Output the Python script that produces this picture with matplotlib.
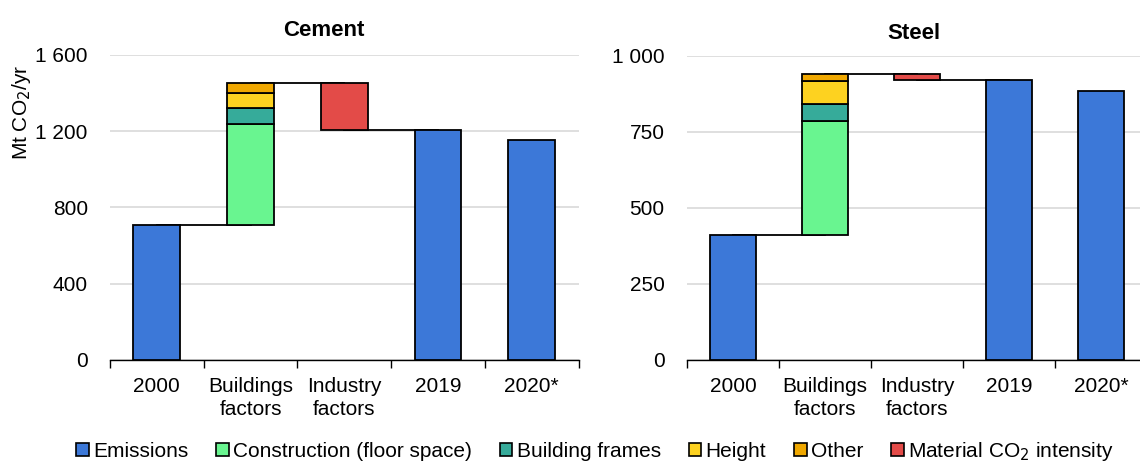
import numpy as np
import matplotlib.pyplot as plt
from matplotlib.patches import Patch

plt.rcParams['font.family'] = ['Liberation Sans', 'DejaVu Sans']

categories = ["2000", "Buildings\nfactors", "Industry\nfactors", "2019", "2020*"]

# Cement (Mt CO2/yr)
cement_2000 = 710
cement_buildings = [525, 87, 80, 50]   # construction, frames, height, other
cement_material = -247
cement_2019 = 1205
cement_2020 = 1155

# Steel (Mt CO2/yr)
steel_2000 = 410
steel_buildings = [374, 56, 76, 25]
steel_material = -20
steel_2019 = 920
steel_2020 = 885

labels = ["Emissions", "Construction (floor space)", "Building frames",
          "Height", "Other", "Material CO$_2$ intensity"]
colors = ["#3c78d8", "#69f590", "#36ab9a", "#fdd220", "#f0a800", "#e34b48"]

FS = 15


def waterfall(ax, start, buildings, material, y2019, y2020, ymax, step):
    w = 0.5
    kw = dict(width=w, edgecolor="black", linewidth=1.3, zorder=3)
    ax.bar(0, start, color=colors[0], **kw)
    bottom = start
    for val, col in zip(buildings, colors[1:5]):
        ax.bar(1, val, bottom=bottom, color=col, **kw)
        bottom += val
    top = bottom
    ax.bar(2, material, bottom=top, color=colors[5], **kw)
    ax.bar(3, y2019, color=colors[0], **kw)
    ax.bar(4, y2020, color=colors[0], **kw)

    # connectors between the steps
    lkw = dict(color="black", linewidth=1.3, zorder=2)
    ax.plot([0, 1], [start, start], **lkw)
    ax.plot([1, 2], [top, top], **lkw)
    ax.plot([2, 3], [top + material, top + material], **lkw)

    ax.set_xlim(-0.5, 4.5)
    ax.set_ylim(0, ymax)
    ax.set_yticks(np.arange(0, ymax + 1, step))
    ax.set_yticklabels([f"{v:,}".replace(",", " ") for v in range(0, ymax + 1, step)])
    ax.set_xticks(range(5))
    ax.set_xticklabels(categories, linespacing=1.3)
    ax.set_xticks(np.arange(-0.5, 5, 1), minor=True)
    ax.tick_params(axis="x", which="major", length=0, pad=12, labelsize=FS)
    ax.tick_params(axis="x", which="minor", length=6, width=1, color="black")
    ax.tick_params(axis="y", length=0, pad=16, labelsize=FS)
    ax.grid(axis="y", color="#d9d9d9", linewidth=1.2, zorder=0)
    ax.set_axisbelow(True)
    for s in ["left", "right", "top"]:
        ax.spines[s].set_visible(False)
    ax.spines["bottom"].set_linewidth(1)


fig = plt.figure(figsize=(11.4, 4.63), dpi=100)
ax1 = fig.add_axes([0.0965, 0.2225, 0.411, 0.659])
ax2 = fig.add_axes([0.6026, 0.2225, 0.4035, 0.657])

waterfall(ax1, cement_2000, cement_buildings, cement_material,
          cement_2019, cement_2020, 1600, 400)
waterfall(ax2, steel_2000, steel_buildings, steel_material,
          steel_2019, steel_2020, 1000, 250)

fig.text(0.284, 0.935, "Cement", fontweight="bold", fontsize=16,
         ha="center", va="center")
fig.text(0.802, 0.928, "Steel", fontweight="bold", fontsize=16,
         ha="center", va="center")

ax1.set_ylabel("Mt CO$_2$/yr", fontsize=FS)
ax1.yaxis.set_label_coords(-0.165, 0.81)

handles = [Patch(facecolor=c, edgecolor="black", linewidth=1.2) for c in colors]
fig.legend(handles, labels, loc="lower center", ncol=6, frameon=False,
           fontsize=FS, bbox_to_anchor=(0.522, -0.04), handlelength=0.6,
           handleheight=0.6, handletextpad=0.2, columnspacing=1.35)

fig.savefig("out.png", dpi=100)
